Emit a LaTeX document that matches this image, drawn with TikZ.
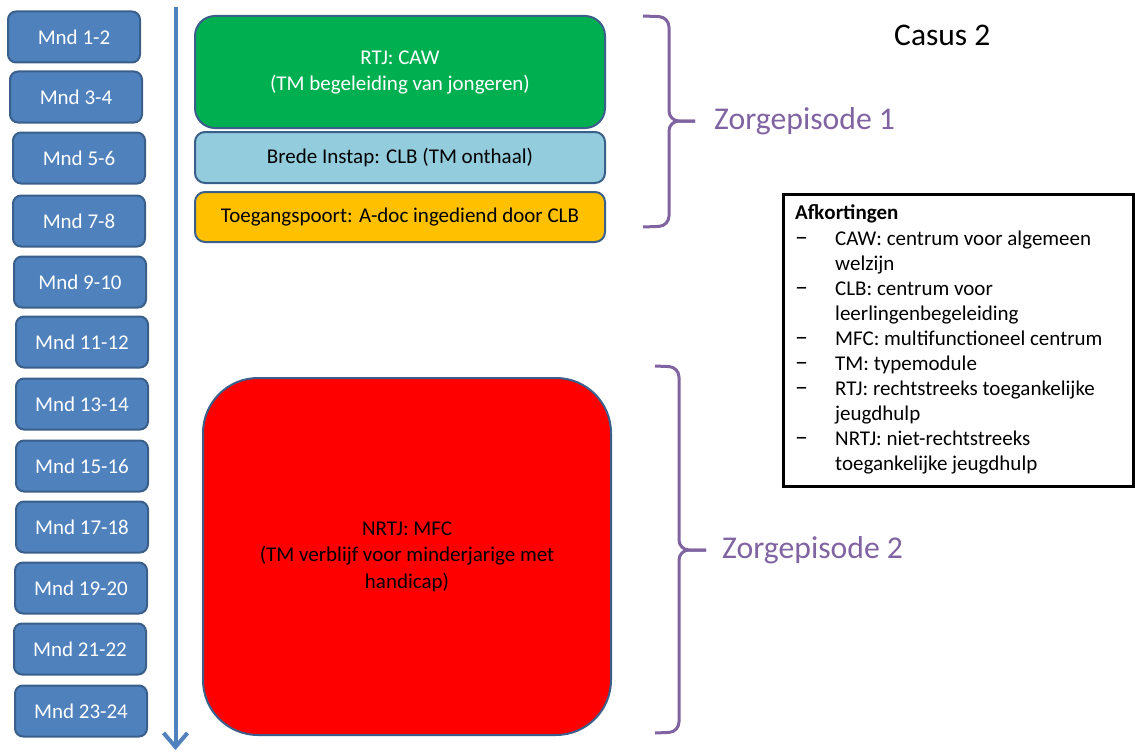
\documentclass[tikz,border=0pt]{standalone}
\usepackage{fontspec}
\setmainfont{Carlito}
\usetikzlibrary{arrows.meta}
\definecolor{mblue}{HTML}{4F81BD}
\definecolor{mborder}{HTML}{3A5F8B}
\definecolor{cgreen}{HTML}{00B050}
\definecolor{clblue}{HTML}{93CDDD}
\definecolor{corange}{HTML}{FFC000}
\definecolor{cred}{HTML}{FF0000}
\definecolor{cpurple}{HTML}{8064A2}
\begin{document}
\begin{tikzpicture}[x=1pt,y=-1pt,
  every node/.style={inner sep=0pt},
  mnd/.style={draw=mborder, fill=mblue, line width=2pt, rounded corners=8pt,
    minimum width=132pt, minimum height=51pt, text=white,
    font=\fontsize{21}{24}\selectfont},
  stage/.style={draw=mborder, line width=2pt, minimum width=410pt,
    align=center, font=\fontsize{21}{26}\selectfont},
  brace/.style={draw=cpurple, line width=3pt, rounded corners=10pt},
  epi/.style={text=cpurple, anchor=west, font=\fontsize{31.7}{36}\selectfont},
  leg/.style={anchor=west, text height=15pt, text depth=5pt,
    font=\fontsize{21}{25}\selectfont}
]
\useasboundingbox (0,0) rectangle (1135,752);

% timeline arrow
\coordinate (t0) at (175.5,7);
\coordinate (t1) at (175.5,750);
\draw[line width=4pt, mblue, -{Straight Barb[length=14pt,width=24pt]}] (t0) -- (t1);

% month boxes
\node[mnd] (m1)  at (74,37)  {Mnd 1-2};
\node[mnd] (m2)  at (76,97)  {Mnd 3-4};
\node[mnd] (m3)  at (79,158) {Mnd 5-6};
\node[mnd] (m4)  at (79,221) {Mnd 7-8};
\node[mnd] (m5)  at (80,282) {Mnd 9-10};
\node[mnd] (m6)  at (82,342) {Mnd 11-12};
\node[mnd] (m7)  at (82,404) {Mnd 13-14};
\node[mnd] (m8)  at (82,466) {Mnd 15-16};
\node[mnd] (m9)  at (82,527) {Mnd 17-18};
\node[mnd] (m10) at (81,588) {Mnd 19-20};
\node[mnd] (m11) at (80,649) {Mnd 21-22};
\node[mnd] (m12) at (81,711) {Mnd 23-24};

% stage boxes
\node[stage, fill=cgreen, text=white, rounded corners=20pt, minimum height=112pt]
  (caw) at (400,72) {RTJ: CAW\\(TM begeleiding van jongeren)};
\node[stage, fill=clblue, rounded corners=10pt, minimum height=51pt]
  (clb) at (400,157.5) {Brede Instap: CLB (TM onthaal)};
\node[stage, fill=corange, rounded corners=10pt, minimum height=50pt]
  (tp) at (400,217) {Toegangspoort: A-doc ingediend door CLB};
\node[draw=mborder, line width=2pt, fill=cred, rounded corners=55pt,
  minimum width=408pt, minimum height=357pt, align=center,
  font=\fontsize{21}{26.5}\selectfont]
  (mfc) at (407,556.5) {NRTJ: MFC\\(TM verblijf voor minderjarige met\\handicap)};

% braces
\draw[brace] (643,16) -- (669,17) -- (669,121) -- (695,121);
\draw[brace] (643,227) -- (669,226) -- (669,121) -- (695,121);
\draw[brace] (655,366) -- (679,367) -- (679,550) -- (706,550);
\draw[brace] (655,733) -- (679,732) -- (679,550) -- (706,550);

\node[epi] (z1) at (714,121) {Zorgepisode 1};
\node[epi] (z2) at (722,550) {Zorgepisode 2};

\node[anchor=west, font=\fontsize{31.5}{36}\selectfont] (casus) at (894,35) {Casus 2};

% legend
\node[draw=black, line width=3pt, minimum width=350pt, minimum height=292pt]
  (legbox) at (958,340) {};
\node[leg, font=\fontsize{21}{25}\selectfont\bfseries] (lh) at (795,214) {Afkortingen};
\foreach \y/\t [count=\i] in {
  240/{CAW: centrum voor algemeen},
  290/{CLB: centrum voor},
  340/{MFC: multifunctioneel centrum},
  365/{TM: typemodule},
  390/{RTJ: rechtstreeks toegankelijke},
  440/{NRTJ: niet-rechtstreeks}}{
  \node[leg, font=\fontsize{26}{25}\selectfont] (d\i) at (795,\y) {\textendash};
  \node[leg] (l\i) at (835,\y) {\t};
}
\node[leg] (c1) at (835,265) {welzijn};
\node[leg] (c2) at (835,315) {leerlingenbegeleiding};
\node[leg] (c3) at (835,415) {jeugdhulp};
\node[leg] (c4) at (835,465) {toegankelijke jeugdhulp};
\end{tikzpicture}
\end{document}
